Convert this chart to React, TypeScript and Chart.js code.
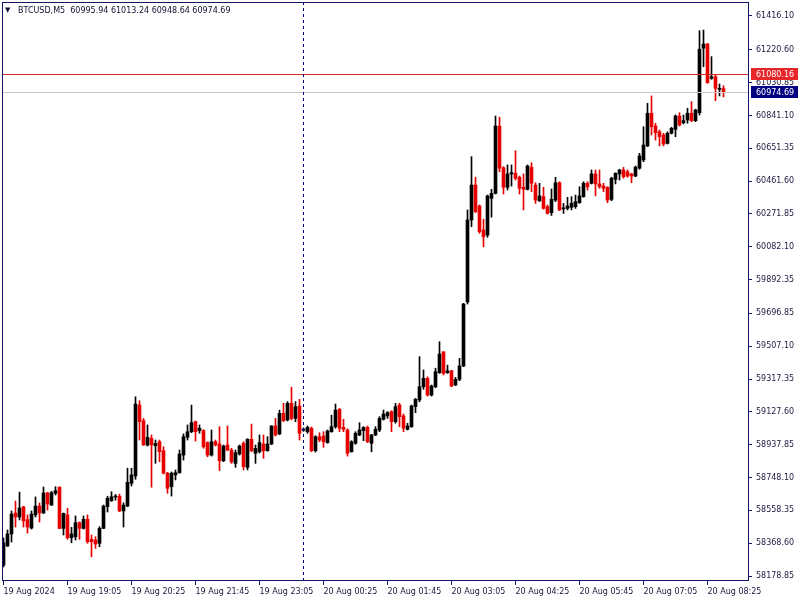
import React, { useEffect, useRef } from "react";
import { Chart, registerables } from "chart.js";

Chart.register(...registerables);

// ---- data (M5 candles, 19 Aug 2024 17:45 -> 20 Aug 2024 08:45) ----
const openPrices = [
  58242, 58352, 58422, 58543, 58520, 58578, 58505, 58456, 58532, 58583,
  58543, 58659, 58589, 58657, 58692, 58454, 58532, 58400, 58406, 58487,
  58454, 58507, 58391, 58387, 58368, 58454, 58580, 58614, 58637, 58640,
  58555, 58583, 58715, 58757, 59167, 59077, 58936, 58975, 58932, 58955,
  58903, 58773, 58695, 58763, 58776, 58878, 58981, 59013, 59071, 59019,
  59019, 58950, 58878, 58955, 58942, 58845, 58936, 58907, 58830, 58884,
  58946, 58807, 58969, 58888, 58897, 58942, 58903, 58942, 59046, 59000,
  59119, 59081, 59177, 59090, 59162, 59023, 59013, 59033, 58903, 58984,
  58988, 58950, 59013, 59042, 59142, 59038, 59023, 58897, 58946, 58994,
  59019, 59038, 58946, 58994, 59023, 59085, 59104, 59129, 59071, 59167,
  59104, 59027, 59042, 59158, 59196, 59273, 59322, 59225, 59273, 59354,
  59475, 59354, 59365, 59283, 59316, 59393, 59763, 60237, 60439, 60318,
  60179, 60150, 60362, 60391, 60780, 60539, 60426, 60503, 60507, 60484,
  60426, 60414, 60542, 60439, 60348, 60372, 60314, 60279, 60352, 60452,
  60302, 60304, 60310, 60314, 60337, 60372, 60449, 60449, 60503, 60445,
  60433, 60426, 60356, 60472, 60503, 60526, 60516, 60503, 60491, 60536,
  60584, 60665, 60854, 60780, 60747, 60728, 60680, 60738, 60761, 60838,
  60799, 60815, 60854, 60811, 60857, 61230, 61254, 61056, 61065, 60992,
  60995.94,
];
const highPrices = [
  58399, 58445, 58555, 58612, 58664, 58582, 58532, 58555, 58636, 58601,
  58693, 58663, 58668, 58695, 58695, 58543, 58570, 58460, 58526, 58492,
  58526, 58532, 58416, 58406, 58464, 58589, 58640, 58666, 58650, 58652,
  58602, 58802, 58802, 59215, 59192, 59090, 59052, 58994, 58965, 58965,
  58926, 58778, 58780, 58792, 58907, 59000, 59052, 59167, 59075, 59052,
  59025, 58955, 59023, 58965, 59042, 58936, 59046, 58917, 58907, 58936,
  58955, 58973, 59057, 58936, 58994, 58994, 58984, 59048, 59090, 59138,
  59177, 59187, 59270, 59187, 59200, 59035, 59046, 59040, 58990, 59007,
  59013, 59023, 59109, 59173, 59148, 59085, 59030, 58961, 59013, 59065,
  59042, 59046, 58998, 59042, 59100, 59138, 59129, 59134, 59177, 59177,
  59115, 59062, 59167, 59206, 59447, 59370, 59330, 59283, 59380, 59533,
  59475, 59398, 59368, 59327, 59437, 59755, 60295, 60603, 60484, 60324,
  60241, 60381, 60414, 60838, 60831, 60545, 60555, 60555, 60637, 60491,
  60503, 60555, 60568, 60452, 60449, 60426, 60324, 60416, 60484, 60458,
  60333, 60368, 60372, 60381, 60429, 60458, 60458, 60526, 60526, 60526,
  60449, 60429, 60484, 60510, 60530, 60541, 60526, 60507, 60549, 60622,
  60776, 60911, 60954, 60796, 60757, 60738, 60747, 60773, 60844, 60857,
  60844, 60883, 60921, 60877, 61331, 61335, 61258, 61181, 61075, 61023,
  61013.24,
];
const lowPrices = [
  58231, 58350, 58375, 58462, 58503, 58462, 58427, 58450, 58520, 58491,
  58540, 58560, 58586, 58647, 58452, 58416, 58391, 58371, 58387, 58391,
  58450, 58368, 58290, 58339, 58348, 58452, 58549, 58610, 58617, 58551,
  58462, 58580, 58699, 58738, 58965, 58934, 58930, 58692, 58830, 58839,
  58769, 58657, 58641, 58734, 58772, 58849, 58965, 59007, 58959, 59004,
  58917, 58868, 58872, 58930, 58788, 58840, 58903, 58830, 58807, 58878,
  58792, 58792, 58897, 58830, 58890, 58859, 58900, 58938, 58988, 58996,
  59071, 59075, 59081, 59071, 58965, 59015, 59004, 58897, 58895, 58955,
  58923, 58946, 59010, 59033, 59013, 59013, 58872, 58895, 58940, 58990,
  58961, 58950, 58897, 58990, 59013, 59080, 59090, 59013, 59062, 59042,
  59013, 59023, 59038, 59123, 59186, 59258, 59219, 59219, 59267, 59350,
  59341, 59350, 59273, 59280, 59308, 59389, 59751, 60198, 60279, 60160,
  60082, 60137, 60253, 60387, 60516, 60387, 60410, 60433, 60468, 60387,
  60295, 60410, 60400, 60333, 60343, 60299, 60271, 60263, 60343, 60291,
  60275, 60295, 60295, 60304, 60333, 60368, 60410, 60445, 60376, 60420,
  60400, 60337, 60348, 60445, 60468, 60478, 60484, 60452, 60487, 60530,
  60574, 60661, 60728, 60699, 60665, 60665, 60676, 60734, 60718, 60780,
  60792, 60796, 60805, 60805, 60844, 61123, 61027, 61050, 60927, 60954,
  60948.64,
];
const closePrices = [
  58370, 58422, 58537, 58520, 58572, 58497, 58462, 58537, 58583, 58543,
  58659, 58595, 58661, 58672, 58454, 58541, 58400, 58422, 58487, 58454,
  58507, 58377, 58377, 58364, 58454, 58583, 58628, 58637, 58640, 58555,
  58589, 58720, 58763, 59173, 59071, 58936, 58981, 58936, 58946, 58897,
  58773, 58686, 58773, 58776, 58884, 58984, 59013, 59065, 59013, 59033,
  58926, 58878, 58955, 58936, 58845, 58930, 58907, 58839, 58892, 58930,
  58811, 58969, 58903, 58917, 58950, 58903, 58942, 59046, 58994, 59119,
  59077, 59177, 59090, 59158, 59004, 59027, 59038, 58903, 58984, 58965,
  58955, 59017, 59042, 59138, 59033, 59027, 58888, 58955, 59004, 59023,
  59038, 58955, 58994, 59027, 59090, 59115, 59123, 59071, 59158, 59100,
  59033, 59046, 59162, 59200, 59273, 59322, 59225, 59277, 59360, 59462,
  59350, 59365, 59277, 59316, 59393, 59751, 60237, 60439, 60285, 60169,
  60140, 60376, 60391, 60780, 60536, 60426, 60503, 60510, 60478, 60420,
  60414, 60549, 60449, 60352, 60376, 60304, 60275, 60356, 60452, 60295,
  60306, 60318, 60333, 60343, 60376, 60449, 60429, 60503, 60445, 60429,
  60420, 60352, 60478, 60507, 60526, 60487, 60491, 60491, 60542, 60607,
  60670, 60854, 60776, 60741, 60718, 60676, 60738, 60767, 60838, 60786,
  60811, 60854, 60811, 60873, 61224, 61254, 61031, 61065, 60998, 60998,
  60974.69,
];

const timeTickIndices = [0, 16, 32, 48, 64, 80, 96, 112, 128, 144, 160, 176];
const timeTickLabels = [
  "19 Aug 2024", "19 Aug 19:05", "19 Aug 20:25", "19 Aug 21:45",
  "19 Aug 23:05", "20 Aug 00:25", "20 Aug 01:45", "20 Aug 03:05",
  "20 Aug 04:25", "20 Aug 05:45", "20 Aug 07:05", "20 Aug 08:25",
];
const priceTickValues = [
  61416.1, 61220.6, 61030.85, 60841.1, 60651.35, 60461.6, 60271.85, 60082.1,
  59892.35, 59696.85, 59507.1, 59317.35, 59127.6, 58937.85, 58748.1, 58558.35,
  58368.6, 58178.85,
];
const askPrice = 61080.16;
const bidPrice = 60974.69;
const separatorIndex = 75; // 20 Aug 00:00
const symbolTitle = "BTCUSD,M5";
const titleValues = "60995.94 61013.24 60948.64 60974.69";

// ---- styles ----
const FONT = "'DejaVu Sans', 'Liberation Sans', sans-serif";
const FRAME = "#14146a";
const TEXT = "#1a1a40";
const BULL = "#000000";
const BEAR = "#e60000";

export default function App() {
  const ref = useRef<HTMLCanvasElement | null>(null);

  useEffect(() => {
    document.body.style.margin = "0";
    const canvas = ref.current;
    if (!canvas) return;

    const colors = openPrices.map((o, i) => (closePrices[i] >= o ? BULL : BEAR));
    const bodies = openPrices.map((o, i) => {
      let lo = Math.min(o, closePrices[i]);
      let hi = Math.max(o, closePrices[i]);
      if (hi - lo < 6) {
        const m = (hi + lo) / 2;
        lo = m - 3;
        hi = m + 3;
      }
      return { x: i, y: [lo, hi] };
    });
    const wicks = openPrices.map((_, i) => ({ x: i, y: [lowPrices[i], highPrices[i]] }));

    const overlay = {
      id: "mtOverlay",
      afterDraw(chart: any) {
        const { ctx, chartArea } = chart;
        const ys = chart.scales.y;
        const xs = chart.scales.x;
        const { left, right, top, bottom } = chartArea;
        ctx.save();

        // bid line (grey)
        const yb = Math.round(ys.getPixelForValue(bidPrice)) + 0.5;
        ctx.strokeStyle = "#c8c8c8";
        ctx.lineWidth = 1;
        ctx.beginPath();
        ctx.moveTo(left, yb);
        ctx.lineTo(right, yb);
        ctx.stroke();

        // ask line (red)
        const ya = Math.round(ys.getPixelForValue(askPrice)) + 0.5;
        ctx.strokeStyle = "#d42a2a";
        ctx.beginPath();
        ctx.moveTo(left, ya);
        ctx.lineTo(right, ya);
        ctx.stroke();

        // period separator
        const xsep = Math.floor(xs.getPixelForValue(separatorIndex)) + 0.5;
        ctx.strokeStyle = "#000080";
        ctx.setLineDash([3, 3]);
        ctx.beginPath();
        ctx.moveTo(xsep, top);
        ctx.lineTo(xsep, bottom);
        ctx.stroke();
        ctx.setLineDash([]);

        // frame
        ctx.strokeStyle = FRAME;
        ctx.strokeRect(left + 0.5, top + 0.5, right - left, bottom - top);

        // price boxes
        ctx.font = `8px ${FONT}`;
        ctx.textBaseline = "middle";
        ctx.textAlign = "left";
        const box = (yy: number, bg: string, label: string) => {
          ctx.fillStyle = bg;
          ctx.fillRect(right + 3, Math.round(yy) - 6, 47, 12);
          ctx.fillStyle = "#ffffff";
          ctx.fillText(label, right + 8, Math.round(yy) + 0.5);
        };
        box(ys.getPixelForValue(askPrice), "#e8262a", askPrice.toFixed(2));
        box(ys.getPixelForValue(bidPrice), "#000080", bidPrice.toFixed(2));

        // title
        ctx.fillStyle = "#101030";
        ctx.font = `7px ${FONT}`;
        ctx.fillText("\u25BC", 5, 10);
        ctx.font = `8px ${FONT}`;
        ctx.fillText(symbolTitle + "  " + titleValues, 18, 10.5);

        ctx.restore();
      },
    };

    const chart = new Chart(canvas, {
      type: "bar",
      data: {
        datasets: [
          {
            data: bodies as any,
            backgroundColor: colors,
            barThickness: 3,
            grouped: false,
            borderWidth: 0,
          } as any,
          {
            data: wicks as any,
            backgroundColor: colors,
            barThickness: 1,
            grouped: false,
            borderWidth: 0,
          } as any,
        ],
      },
      options: {
        animation: false,
        responsive: false,
        devicePixelRatio: 1,
        layout: { padding: { left: 2, top: 2, right: 0, bottom: 0 } },
        plugins: {
          legend: { display: false },
          tooltip: { enabled: false },
        },
        scales: {
          x: {
            type: "linear",
            min: -0.375,
            max: 186.125,
            offset: false,
            afterBuildTicks: (s: any) => {
              s.ticks = timeTickIndices.map((v) => ({ value: v }));
            },
            afterFit: (s: any) => {
              s.height = 20;
              s.paddingLeft = 0;
              s.paddingRight = 0;
            },
            grid: {
              offset: false,
              drawOnChartArea: false,
              drawTicks: true,
              tickLength: 5,
              color: FRAME,
            },
            border: { display: false },
            ticks: {
              autoSkip: false,
              maxRotation: 0,
              minRotation: 0,
              align: "start",
              padding: 2,
              color: TEXT,
              font: { family: FONT, size: 8 },
              callback: (v: any) => {
                const k = timeTickIndices.indexOf(Number(v));
                return k >= 0 ? timeTickLabels[k] : "";
              },
            },
          } as any,
          y: {
            type: "linear",
            position: "right",
            min: 58155.73,
            max: 61497.03,
            afterBuildTicks: (s: any) => {
              s.ticks = priceTickValues.map((v) => ({ value: v }));
            },
            afterFit: (s: any) => {
              s.width = 52;
              s.paddingTop = 0;
              s.paddingBottom = 0;
            },
            grid: {
              drawOnChartArea: false,
              drawTicks: true,
              tickLength: 4,
              color: FRAME,
            },
            border: { display: false },
            ticks: {
              padding: 4,
              color: TEXT,
              font: { family: FONT, size: 8 },
              callback: (v: any) => Number(v).toFixed(2),
            },
          } as any,
        },
      },
      plugins: [overlay as any],
    });

    return () => chart.destroy();
  }, []);

  return <canvas ref={ref} width={800} height={600} style={{ display: "block" }} />;
}
